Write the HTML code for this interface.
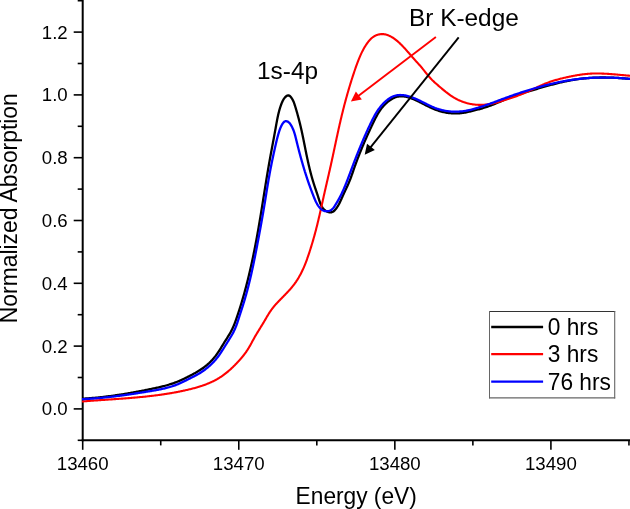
<!DOCTYPE html>
<html><head><meta charset="utf-8">
<style>
html,body{margin:0;padding:0;background:#fff;}
body{width:630px;height:509px;overflow:hidden;}
svg{display:block;will-change:transform;}
text{font-family:'Liberation Sans',sans-serif;fill:#000;}
.t{font-size:18.65px;}
.ti{font-size:24.1px;}
.an{font-size:24.4px;}
.lg{font-size:24.1px;}
</style></head><body>
<svg width="630" height="509" viewBox="0 0 630 509">
<line x1="82.70" y1="-2" x2="82.70" y2="441.20" stroke="#000" stroke-width="2"/>
<line x1="81.70" y1="440.20" x2="632" y2="440.20" stroke="#000" stroke-width="2"/>
<line x1="77.70" y1="440.30" x2="82.70" y2="440.30" stroke="#000" stroke-width="1.6"/>
<line x1="73.70" y1="408.90" x2="82.70" y2="408.90" stroke="#000" stroke-width="1.6"/>
<text x="67.70" y="415.30" text-anchor="end" class="t">0.0</text>
<line x1="77.70" y1="377.50" x2="82.70" y2="377.50" stroke="#000" stroke-width="1.6"/>
<line x1="73.70" y1="346.10" x2="82.70" y2="346.10" stroke="#000" stroke-width="1.6"/>
<text x="67.70" y="352.50" text-anchor="end" class="t">0.2</text>
<line x1="77.70" y1="314.70" x2="82.70" y2="314.70" stroke="#000" stroke-width="1.6"/>
<line x1="73.70" y1="283.30" x2="82.70" y2="283.30" stroke="#000" stroke-width="1.6"/>
<text x="67.70" y="289.70" text-anchor="end" class="t">0.4</text>
<line x1="77.70" y1="251.90" x2="82.70" y2="251.90" stroke="#000" stroke-width="1.6"/>
<line x1="73.70" y1="220.50" x2="82.70" y2="220.50" stroke="#000" stroke-width="1.6"/>
<text x="67.70" y="226.90" text-anchor="end" class="t">0.6</text>
<line x1="77.70" y1="189.10" x2="82.70" y2="189.10" stroke="#000" stroke-width="1.6"/>
<line x1="73.70" y1="157.70" x2="82.70" y2="157.70" stroke="#000" stroke-width="1.6"/>
<text x="67.70" y="164.10" text-anchor="end" class="t">0.8</text>
<line x1="77.70" y1="126.30" x2="82.70" y2="126.30" stroke="#000" stroke-width="1.6"/>
<line x1="73.70" y1="94.90" x2="82.70" y2="94.90" stroke="#000" stroke-width="1.6"/>
<text x="67.70" y="101.30" text-anchor="end" class="t">1.0</text>
<line x1="77.70" y1="63.50" x2="82.70" y2="63.50" stroke="#000" stroke-width="1.6"/>
<line x1="73.70" y1="32.10" x2="82.70" y2="32.10" stroke="#000" stroke-width="1.6"/>
<text x="67.70" y="38.50" text-anchor="end" class="t">1.2</text>
<line x1="77.70" y1="0.70" x2="82.70" y2="0.70" stroke="#000" stroke-width="1.6"/>
<line x1="82.70" y1="440.20" x2="82.70" y2="449.80" stroke="#000" stroke-width="1.6"/>
<text x="82.70" y="469.60" text-anchor="middle" class="t">13460</text>
<line x1="160.74" y1="440.20" x2="160.74" y2="445.40" stroke="#000" stroke-width="1.6"/>
<line x1="238.77" y1="440.20" x2="238.77" y2="449.80" stroke="#000" stroke-width="1.6"/>
<text x="238.77" y="469.60" text-anchor="middle" class="t">13470</text>
<line x1="316.81" y1="440.20" x2="316.81" y2="445.40" stroke="#000" stroke-width="1.6"/>
<line x1="394.84" y1="440.20" x2="394.84" y2="449.80" stroke="#000" stroke-width="1.6"/>
<text x="394.84" y="469.60" text-anchor="middle" class="t">13480</text>
<line x1="472.87" y1="440.20" x2="472.87" y2="445.40" stroke="#000" stroke-width="1.6"/>
<line x1="550.91" y1="440.20" x2="550.91" y2="449.80" stroke="#000" stroke-width="1.6"/>
<text x="550.91" y="469.60" text-anchor="middle" class="t">13490</text>
<line x1="628.95" y1="440.20" x2="628.95" y2="445.40" stroke="#000" stroke-width="1.6"/>
<text transform="translate(295.6,503.9) scale(0.943,1)" class="ti">Energy (eV)</text>
<text transform="translate(16.7,323.2) rotate(-90) scale(0.949,1)" class="ti">Normalized Absorption</text>
<path d="M81.99,398.68 L82.92,398.64 L83.85,398.59 L84.78,398.53 L85.71,398.48 L86.63,398.42 L87.56,398.36 L88.48,398.30 L89.41,398.23 L90.33,398.16 L91.26,398.09 L92.18,398.02 L93.10,397.94 L94.03,397.86 L94.95,397.78 L95.87,397.69 L96.79,397.61 L97.71,397.52 L98.63,397.43 L99.55,397.33 L100.47,397.24 L101.39,397.14 L102.31,397.03 L103.23,396.93 L104.15,396.83 L105.07,396.72 L105.99,396.61 L106.90,396.49 L107.82,396.38 L108.74,396.26 L109.65,396.14 L110.57,396.02 L111.48,395.90 L112.40,395.77 L113.32,395.65 L114.23,395.52 L115.14,395.39 L116.06,395.25 L116.97,395.12 L117.89,394.98 L118.80,394.84 L119.71,394.70 L120.63,394.56 L121.54,394.42 L122.45,394.27 L123.36,394.12 L124.28,393.98 L125.19,393.82 L126.10,393.67 L127.01,393.52 L127.92,393.36 L128.83,393.21 L129.75,393.05 L130.66,392.89 L131.57,392.73 L132.48,392.56 L133.39,392.40 L134.30,392.23 L135.21,392.07 L136.12,391.90 L137.03,391.73 L137.94,391.56 L138.85,391.39 L139.76,391.21 L140.67,391.04 L141.58,390.86 L142.49,390.69 L143.40,390.51 L144.31,390.33 L145.22,390.15 L146.12,389.97 L147.03,389.79 L147.94,389.61 L148.85,389.42 L149.76,389.24 L150.67,389.05 L151.58,388.87 L152.49,388.68 L153.40,388.49 L154.31,388.30 L155.21,388.11 L156.12,387.91 L157.03,387.71 L157.93,387.51 L158.84,387.30 L159.74,387.10 L160.64,386.88 L161.54,386.67 L162.44,386.44 L163.34,386.22 L164.24,385.99 L165.13,385.75 L166.02,385.51 L166.91,385.26 L167.80,385.00 L168.68,384.74 L169.57,384.47 L170.45,384.20 L171.33,383.92 L172.20,383.63 L173.07,383.33 L173.94,383.02 L174.81,382.70 L175.67,382.38 L176.53,382.05 L177.39,381.71 L178.24,381.36 L179.09,381.00 L179.94,380.63 L180.79,380.26 L181.63,379.88 L182.47,379.50 L183.31,379.10 L184.14,378.71 L184.98,378.30 L185.81,377.90 L186.64,377.48 L187.47,377.07 L188.30,376.65 L189.12,376.22 L189.95,375.79 L190.77,375.36 L191.59,374.93 L192.41,374.49 L193.23,374.05 L194.04,373.60 L194.86,373.15 L195.66,372.69 L196.47,372.23 L197.27,371.76 L198.06,371.28 L198.85,370.80 L199.64,370.31 L200.42,369.81 L201.19,369.30 L201.96,368.78 L202.71,368.25 L203.46,367.71 L204.21,367.16 L204.94,366.60 L205.67,366.03 L206.38,365.44 L207.09,364.85 L207.79,364.24 L208.47,363.62 L209.15,363.00 L209.82,362.36 L210.48,361.71 L211.13,361.05 L211.77,360.38 L212.40,359.70 L213.01,359.01 L213.62,358.32 L214.22,357.61 L214.80,356.89 L215.38,356.17 L215.94,355.44 L216.49,354.69 L217.03,353.94 L217.56,353.19 L218.08,352.42 L218.59,351.65 L219.10,350.88 L219.60,350.10 L220.09,349.31 L220.58,348.53 L221.07,347.74 L221.55,346.95 L222.03,346.15 L222.51,345.36 L223.00,344.57 L223.48,343.78 L223.97,342.99 L224.46,342.20 L224.96,341.41 L225.45,340.63 L225.95,339.85 L226.45,339.06 L226.95,338.28 L227.44,337.50 L227.93,336.71 L228.42,335.92 L228.90,335.13 L229.38,334.34 L229.85,333.55 L230.31,332.74 L230.75,331.94 L231.19,331.13 L231.62,330.31 L232.03,329.49 L232.43,328.66 L232.82,327.82 L233.20,326.98 L233.57,326.13 L233.92,325.28 L234.27,324.42 L234.61,323.56 L234.94,322.70 L235.27,321.83 L235.59,320.96 L235.90,320.09 L236.21,319.22 L236.51,318.34 L236.82,317.46 L237.12,316.59 L237.41,315.71 L237.71,314.83 L238.00,313.95 L238.29,313.07 L238.58,312.19 L238.87,311.31 L239.15,310.43 L239.44,309.55 L239.72,308.67 L240.00,307.78 L240.27,306.90 L240.55,306.02 L240.82,305.13 L241.09,304.25 L241.36,303.36 L241.63,302.48 L241.89,301.59 L242.16,300.70 L242.42,299.82 L242.68,298.93 L242.93,298.04 L243.19,297.15 L243.44,296.26 L243.70,295.37 L243.95,294.48 L244.20,293.59 L244.44,292.70 L244.69,291.81 L244.93,290.91 L245.17,290.02 L245.41,289.13 L245.65,288.23 L245.89,287.34 L246.12,286.44 L246.36,285.55 L246.59,284.65 L246.82,283.76 L247.05,282.86 L247.28,281.97 L247.50,281.07 L247.73,280.17 L247.95,279.27 L248.17,278.37 L248.39,277.48 L248.61,276.58 L248.83,275.68 L249.04,274.78 L249.25,273.88 L249.47,272.98 L249.68,272.08 L249.89,271.17 L250.10,270.27 L250.30,269.37 L250.51,268.47 L250.71,267.57 L250.92,266.66 L251.12,265.76 L251.32,264.86 L251.52,263.95 L251.72,263.05 L251.91,262.14 L252.11,261.24 L252.30,260.33 L252.50,259.43 L252.69,258.52 L252.88,257.62 L253.07,256.71 L253.26,255.80 L253.44,254.90 L253.63,253.99 L253.81,253.08 L254.00,252.18 L254.18,251.27 L254.36,250.36 L254.54,249.45 L254.72,248.54 L254.90,247.63 L255.08,246.73 L255.25,245.82 L255.43,244.91 L255.60,244.00 L255.78,243.09 L255.95,242.18 L256.12,241.27 L256.29,240.36 L256.46,239.45 L256.63,238.54 L256.80,237.63 L256.96,236.72 L257.13,235.81 L257.29,234.89 L257.46,233.98 L257.62,233.07 L257.78,232.16 L257.95,231.25 L258.11,230.34 L258.27,229.43 L258.43,228.51 L258.59,227.60 L258.74,226.69 L258.90,225.78 L259.06,224.87 L259.21,223.95 L259.37,223.04 L259.52,222.13 L259.68,221.22 L259.83,220.30 L259.98,219.39 L260.13,218.48 L260.28,217.57 L260.44,216.65 L260.59,215.74 L260.74,214.83 L260.89,213.91 L261.04,213.00 L261.18,212.09 L261.33,211.17 L261.48,210.26 L261.63,209.35 L261.78,208.43 L261.92,207.52 L262.07,206.61 L262.22,205.69 L262.36,204.78 L262.51,203.87 L262.66,202.95 L262.80,202.04 L262.95,201.13 L263.09,200.21 L263.24,199.30 L263.38,198.39 L263.53,197.47 L263.67,196.56 L263.82,195.64 L263.97,194.73 L264.11,193.82 L264.26,192.90 L264.40,191.99 L264.55,191.08 L264.69,190.16 L264.84,189.25 L264.99,188.34 L265.13,187.42 L265.28,186.51 L265.43,185.59 L265.57,184.68 L265.72,183.77 L265.87,182.85 L266.02,181.94 L266.17,181.03 L266.31,180.11 L266.46,179.20 L266.61,178.29 L266.76,177.37 L266.91,176.46 L267.06,175.55 L267.22,174.64 L267.37,173.72 L267.52,172.81 L267.67,171.90 L267.83,170.98 L267.98,170.07 L268.14,169.16 L268.29,168.25 L268.45,167.33 L268.61,166.42 L268.76,165.51 L268.92,164.60 L269.08,163.68 L269.24,162.77 L269.40,161.86 L269.57,160.95 L269.73,160.04 L269.89,159.12 L270.06,158.21 L270.22,157.30 L270.39,156.39 L270.55,155.48 L270.72,154.57 L270.89,153.66 L271.06,152.75 L271.23,151.83 L271.40,150.92 L271.57,150.01 L271.74,149.10 L271.91,148.19 L272.08,147.28 L272.25,146.37 L272.42,145.46 L272.59,144.55 L272.76,143.64 L272.93,142.73 L273.10,141.82 L273.27,140.91 L273.44,140.00 L273.61,139.09 L273.78,138.18 L273.95,137.27 L274.12,136.36 L274.29,135.45 L274.46,134.54 L274.62,133.63 L274.79,132.72 L274.96,131.82 L275.12,130.91 L275.29,130.00 L275.45,129.09 L275.62,128.18 L275.78,127.27 L275.94,126.36 L276.11,125.45 L276.27,124.55 L276.43,123.64 L276.60,122.73 L276.76,121.83 L276.93,120.92 L277.11,120.02 L277.28,119.11 L277.46,118.21 L277.65,117.31 L277.84,116.41 L278.04,115.51 L278.24,114.61 L278.45,113.72 L278.67,112.82 L278.89,111.93 L279.13,111.04 L279.37,110.15 L279.62,109.27 L279.89,108.39 L280.16,107.51 L280.45,106.63 L280.74,105.75 L281.05,104.88 L281.38,104.01 L281.71,103.14 L282.07,102.28 L282.45,101.42 L282.87,100.58 L283.33,99.75 L283.84,98.93 L284.41,98.13 L285.05,97.35 L285.77,96.62 L286.53,95.99 L287.32,95.55 L288.11,95.35 L288.89,95.47 L289.64,95.87 L290.36,96.49 L291.02,97.26 L291.64,98.11 L292.19,98.97 L292.68,99.83 L293.12,100.70 L293.51,101.56 L293.87,102.42 L294.19,103.29 L294.49,104.16 L294.77,105.03 L295.04,105.90 L295.31,106.77 L295.58,107.64 L295.84,108.52 L296.10,109.40 L296.36,110.28 L296.61,111.16 L296.87,112.04 L297.12,112.93 L297.37,113.81 L297.62,114.70 L297.86,115.59 L298.10,116.48 L298.34,117.37 L298.58,118.27 L298.82,119.16 L299.05,120.05 L299.28,120.95 L299.51,121.85 L299.73,122.74 L299.95,123.64 L300.17,124.54 L300.39,125.44 L300.60,126.34 L300.82,127.24 L301.02,128.15 L301.23,129.05 L301.43,129.95 L301.63,130.85 L301.83,131.75 L302.03,132.66 L302.22,133.56 L302.41,134.47 L302.60,135.37 L302.79,136.27 L302.98,137.18 L303.16,138.08 L303.35,138.99 L303.53,139.89 L303.71,140.80 L303.90,141.71 L304.08,142.61 L304.26,143.52 L304.44,144.43 L304.62,145.33 L304.80,146.24 L304.98,147.15 L305.16,148.06 L305.34,148.96 L305.52,149.87 L305.70,150.78 L305.89,151.69 L306.07,152.59 L306.25,153.50 L306.44,154.41 L306.63,155.32 L306.82,156.23 L307.01,157.13 L307.20,158.04 L307.39,158.95 L307.59,159.86 L307.79,160.77 L307.99,161.67 L308.19,162.58 L308.40,163.48 L308.60,164.39 L308.81,165.29 L309.02,166.20 L309.24,167.10 L309.45,168.00 L309.67,168.91 L309.89,169.81 L310.12,170.70 L310.35,171.60 L310.58,172.50 L310.81,173.39 L311.05,174.29 L311.29,175.18 L311.53,176.07 L311.78,176.96 L312.03,177.85 L312.28,178.73 L312.54,179.62 L312.80,180.50 L313.06,181.38 L313.33,182.26 L313.60,183.13 L313.88,184.01 L314.16,184.88 L314.44,185.75 L314.73,186.62 L315.02,187.49 L315.31,188.35 L315.60,189.22 L315.89,190.10 L316.19,190.97 L316.48,191.84 L316.78,192.72 L317.08,193.60 L317.37,194.48 L317.67,195.37 L317.96,196.26 L318.25,197.16 L318.54,198.06 L318.83,198.97 L319.12,199.88 L319.41,200.79 L319.72,201.70 L320.04,202.60 L320.37,203.48 L320.73,204.35 L321.12,205.20 L321.53,206.02 L321.99,206.82 L322.48,207.58 L323.01,208.31 L323.60,209.00 L324.23,209.65 L324.92,210.25 L325.67,210.79 L326.48,211.28 L327.32,211.69 L328.18,212.02 L329.06,212.25 L329.95,212.37 L330.82,212.37 L331.68,212.24 L332.50,211.96 L333.28,211.53 L334.01,210.97 L334.71,210.31 L335.36,209.57 L335.98,208.79 L336.56,207.99 L337.11,207.19 L337.64,206.38 L338.13,205.57 L338.60,204.76 L339.05,203.94 L339.48,203.11 L339.89,202.29 L340.29,201.46 L340.68,200.63 L341.06,199.80 L341.43,198.97 L341.80,198.13 L342.16,197.30 L342.53,196.46 L342.90,195.62 L343.27,194.79 L343.66,193.95 L344.04,193.12 L344.43,192.28 L344.83,191.45 L345.23,190.61 L345.62,189.77 L346.02,188.93 L346.42,188.09 L346.81,187.25 L347.20,186.41 L347.59,185.56 L347.97,184.72 L348.35,183.87 L348.72,183.01 L349.08,182.16 L349.43,181.30 L349.78,180.44 L350.11,179.58 L350.45,178.71 L350.77,177.84 L351.09,176.98 L351.41,176.10 L351.72,175.23 L352.02,174.36 L352.33,173.49 L352.63,172.61 L352.94,171.74 L353.24,170.86 L353.54,169.99 L353.84,169.11 L354.14,168.24 L354.45,167.37 L354.76,166.49 L355.07,165.62 L355.38,164.75 L355.69,163.88 L356.01,163.01 L356.33,162.15 L356.65,161.28 L356.98,160.42 L357.30,159.55 L357.63,158.69 L357.96,157.82 L358.30,156.96 L358.63,156.10 L358.97,155.24 L359.31,154.38 L359.65,153.52 L359.99,152.66 L360.34,151.80 L360.68,150.95 L361.03,150.09 L361.39,149.24 L361.74,148.38 L362.09,147.53 L362.45,146.67 L362.81,145.82 L363.17,144.97 L363.53,144.12 L363.90,143.27 L364.26,142.42 L364.63,141.57 L365.00,140.72 L365.37,139.87 L365.74,139.02 L366.12,138.18 L366.49,137.33 L366.87,136.48 L367.25,135.64 L367.63,134.79 L368.01,133.95 L368.39,133.11 L368.78,132.26 L369.16,131.42 L369.55,130.58 L369.94,129.73 L370.33,128.89 L370.72,128.05 L371.11,127.21 L371.50,126.37 L371.90,125.53 L372.30,124.69 L372.69,123.85 L373.09,123.01 L373.49,122.18 L373.90,121.34 L374.31,120.51 L374.72,119.68 L375.14,118.85 L375.56,118.03 L375.99,117.21 L376.43,116.39 L376.87,115.59 L377.32,114.78 L377.78,113.99 L378.25,113.20 L378.74,112.42 L379.23,111.64 L379.73,110.88 L380.25,110.12 L380.78,109.37 L381.32,108.64 L381.88,107.91 L382.45,107.20 L383.04,106.49 L383.65,105.80 L384.27,105.12 L384.91,104.46 L385.56,103.80 L386.24,103.16 L386.94,102.54 L387.65,101.93 L388.39,101.34 L389.15,100.76 L389.93,100.21 L390.72,99.68 L391.53,99.18 L392.35,98.71 L393.18,98.27 L394.03,97.87 L394.88,97.51 L395.75,97.19 L396.61,96.92 L397.49,96.69 L398.37,96.51 L399.26,96.38 L400.15,96.29 L401.05,96.25 L401.95,96.25 L402.87,96.30 L403.79,96.39 L404.71,96.52 L405.64,96.68 L406.56,96.88 L407.48,97.10 L408.40,97.36 L409.30,97.63 L410.19,97.92 L411.07,98.23 L411.94,98.56 L412.80,98.90 L413.65,99.26 L414.49,99.62 L415.32,100.00 L416.15,100.38 L416.98,100.78 L417.81,101.17 L418.63,101.58 L419.46,101.99 L420.28,102.40 L421.10,102.82 L421.92,103.24 L422.75,103.66 L423.57,104.09 L424.39,104.51 L425.21,104.93 L426.04,105.35 L426.86,105.76 L427.69,106.18 L428.52,106.58 L429.36,106.99 L430.19,107.38 L431.03,107.77 L431.87,108.15 L432.72,108.53 L433.57,108.89 L434.42,109.24 L435.28,109.59 L436.14,109.91 L437.01,110.23 L437.89,110.53 L438.77,110.82 L439.65,111.10 L440.54,111.35 L441.44,111.60 L442.34,111.83 L443.24,112.04 L444.15,112.24 L445.06,112.43 L445.98,112.59 L446.89,112.75 L447.81,112.89 L448.73,113.01 L449.66,113.12 L450.58,113.21 L451.51,113.28 L452.44,113.34 L453.36,113.39 L454.29,113.42 L455.22,113.43 L456.15,113.43 L457.07,113.41 L458.00,113.37 L458.92,113.32 L459.84,113.25 L460.76,113.16 L461.68,113.06 L462.59,112.94 L463.51,112.81 L464.42,112.66 L465.32,112.50 L466.23,112.32 L467.13,112.14 L468.03,111.94 L468.93,111.74 L469.83,111.53 L470.73,111.32 L471.63,111.10 L472.53,110.87 L473.43,110.65 L474.33,110.42 L475.23,110.20 L476.12,109.97 L477.02,109.74 L477.92,109.51 L478.81,109.27 L479.71,109.03 L480.60,108.79 L481.50,108.54 L482.39,108.28 L483.27,108.02 L484.16,107.75 L485.04,107.47 L485.92,107.19 L486.80,106.90 L487.67,106.60 L488.55,106.29 L489.42,105.97 L490.28,105.65 L491.15,105.32 L492.01,104.99 L492.87,104.65 L493.73,104.31 L494.59,103.96 L495.45,103.61 L496.30,103.25 L497.16,102.90 L498.01,102.54 L498.86,102.18 L499.72,101.82 L500.57,101.45 L501.42,101.09 L502.28,100.73 L503.13,100.37 L503.98,100.01 L504.84,99.65 L505.69,99.29 L506.55,98.94 L507.41,98.59 L508.26,98.24 L509.12,97.90 L509.99,97.57 L510.85,97.23 L511.72,96.91 L512.58,96.58 L513.45,96.27 L514.32,95.96 L515.19,95.65 L516.07,95.34 L516.94,95.04 L517.82,94.75 L518.70,94.45 L519.57,94.16 L520.45,93.88 L521.33,93.59 L522.22,93.31 L523.10,93.03 L523.98,92.76 L524.87,92.48 L525.75,92.21 L526.63,91.94 L527.52,91.67 L528.41,91.41 L529.29,91.14 L530.18,90.88 L531.07,90.61 L531.95,90.35 L532.84,90.09 L533.73,89.83 L534.62,89.57 L535.50,89.30 L536.39,89.04 L537.28,88.78 L538.17,88.52 L539.06,88.26 L539.94,88.00 L540.83,87.75 L541.72,87.49 L542.61,87.23 L543.50,86.98 L544.39,86.73 L545.28,86.47 L546.17,86.22 L547.06,85.97 L547.95,85.73 L548.84,85.48 L549.73,85.24 L550.63,85.00 L551.52,84.76 L552.41,84.52 L553.31,84.29 L554.21,84.05 L555.10,83.82 L556.00,83.60 L556.90,83.37 L557.80,83.15 L558.69,82.93 L559.60,82.72 L560.50,82.50 L561.40,82.29 L562.30,82.09 L563.21,81.89 L564.11,81.69 L565.02,81.49 L565.92,81.30 L566.83,81.11 L567.74,80.93 L568.64,80.75 L569.55,80.57 L570.46,80.40 L571.37,80.24 L572.29,80.07 L573.20,79.91 L574.11,79.76 L575.02,79.61 L575.94,79.47 L576.85,79.33 L577.77,79.19 L578.68,79.07 L579.60,78.94 L580.52,78.82 L581.43,78.71 L582.35,78.60 L583.27,78.50 L584.19,78.40 L585.11,78.31 L586.03,78.23 L586.95,78.15 L587.87,78.07 L588.80,78.00 L589.72,77.93 L590.64,77.87 L591.56,77.82 L592.49,77.77 L593.41,77.72 L594.34,77.68 L595.26,77.64 L596.18,77.61 L597.11,77.58 L598.03,77.56 L598.96,77.54 L599.88,77.52 L600.81,77.51 L601.74,77.51 L602.66,77.50 L603.59,77.50 L604.51,77.51 L605.44,77.52 L606.37,77.53 L607.29,77.55 L608.22,77.57 L609.14,77.59 L610.07,77.62 L611.00,77.65 L611.92,77.68 L612.85,77.72 L613.77,77.76 L614.70,77.81 L615.62,77.85 L616.55,77.90 L617.47,77.95 L618.40,78.01 L619.32,78.07 L620.24,78.13 L621.17,78.19 L622.09,78.26 L623.01,78.33 L623.94,78.40 L624.86,78.47 L625.78,78.55 L626.70,78.63 L627.62,78.71 L628.54,78.79 L629.46,78.88 L630.38,78.96 L630.99,79.02" fill="none" stroke="#000" stroke-width="2.3" stroke-linejoin="round"/>
<path d="M82.00,401.51 L82.81,401.44 L83.62,401.37 L84.43,401.31 L85.24,401.24 L86.05,401.18 L86.87,401.11 L87.68,401.05 L88.49,400.99 L89.30,400.93 L90.11,400.87 L90.92,400.81 L91.73,400.75 L92.55,400.69 L93.36,400.63 L94.17,400.57 L94.98,400.51 L95.79,400.45 L96.61,400.39 L97.42,400.34 L98.23,400.28 L99.04,400.22 L99.86,400.17 L100.67,400.11 L101.48,400.05 L102.29,400.00 L103.11,399.94 L103.92,399.89 L104.73,399.83 L105.54,399.78 L106.36,399.72 L107.17,399.66 L107.98,399.61 L108.79,399.55 L109.61,399.50 L110.42,399.44 L111.23,399.39 L112.04,399.33 L112.86,399.27 L113.67,399.22 L114.48,399.16 L115.29,399.10 L116.11,399.05 L116.92,398.99 L117.73,398.93 L118.54,398.87 L119.36,398.82 L120.17,398.76 L120.98,398.70 L121.79,398.64 L122.61,398.58 L123.42,398.52 L124.23,398.46 L125.04,398.39 L125.85,398.33 L126.67,398.27 L127.48,398.21 L128.29,398.14 L129.10,398.08 L129.91,398.01 L130.72,397.94 L131.54,397.88 L132.35,397.81 L133.16,397.74 L133.97,397.67 L134.78,397.60 L135.59,397.53 L136.40,397.46 L137.21,397.38 L138.02,397.31 L138.83,397.23 L139.64,397.16 L140.45,397.08 L141.26,397.00 L142.07,396.92 L142.88,396.84 L143.69,396.76 L144.50,396.68 L145.31,396.59 L146.12,396.51 L146.93,396.42 L147.74,396.33 L148.55,396.24 L149.35,396.15 L150.16,396.06 L150.97,395.97 L151.78,395.87 L152.59,395.78 L153.39,395.68 L154.20,395.58 L155.01,395.48 L155.81,395.38 L156.62,395.27 L157.43,395.17 L158.23,395.06 L159.04,394.95 L159.85,394.84 L160.65,394.73 L161.46,394.62 L162.26,394.50 L163.07,394.38 L163.87,394.26 L164.68,394.14 L165.48,394.02 L166.28,393.90 L167.09,393.77 L167.89,393.64 L168.69,393.51 L169.50,393.38 L170.30,393.24 L171.10,393.11 L171.90,392.97 L172.70,392.83 L173.51,392.69 L174.31,392.54 L175.11,392.40 L175.91,392.25 L176.71,392.10 L177.51,391.94 L178.31,391.79 L179.11,391.63 L179.91,391.47 L180.71,391.30 L181.50,391.14 L182.30,390.97 L183.10,390.80 L183.90,390.63 L184.70,390.46 L185.49,390.28 L186.29,390.10 L187.08,389.92 L187.88,389.73 L188.68,389.54 L189.47,389.35 L190.26,389.16 L191.06,388.96 L191.85,388.76 L192.64,388.56 L193.43,388.35 L194.22,388.14 L195.01,387.92 L195.79,387.70 L196.58,387.48 L197.36,387.25 L198.14,387.02 L198.92,386.78 L199.70,386.54 L200.48,386.29 L201.25,386.04 L202.02,385.79 L202.79,385.52 L203.56,385.25 L204.32,384.98 L205.08,384.70 L205.84,384.41 L206.60,384.12 L207.35,383.82 L208.10,383.52 L208.85,383.21 L209.60,382.89 L210.34,382.56 L211.07,382.23 L211.81,381.89 L212.54,381.55 L213.26,381.19 L213.99,380.83 L214.71,380.46 L215.42,380.08 L216.13,379.70 L216.84,379.30 L217.54,378.90 L218.24,378.49 L218.93,378.07 L219.62,377.64 L220.31,377.20 L220.98,376.76 L221.66,376.30 L222.33,375.84 L223.00,375.37 L223.66,374.89 L224.31,374.40 L224.96,373.91 L225.61,373.41 L226.25,372.90 L226.89,372.39 L227.52,371.87 L228.15,371.34 L228.78,370.80 L229.40,370.26 L230.01,369.72 L230.62,369.17 L231.23,368.61 L231.83,368.05 L232.43,367.49 L233.02,366.92 L233.61,366.35 L234.19,365.77 L234.78,365.19 L235.35,364.60 L235.92,364.01 L236.49,363.42 L237.05,362.83 L237.61,362.23 L238.17,361.63 L238.72,361.03 L239.26,360.43 L239.80,359.83 L240.34,359.22 L240.87,358.61 L241.40,357.99 L241.92,357.38 L242.44,356.76 L242.95,356.13 L243.45,355.50 L243.95,354.87 L244.44,354.23 L244.92,353.59 L245.40,352.94 L245.87,352.28 L246.33,351.62 L246.79,350.96 L247.24,350.28 L247.68,349.60 L248.11,348.92 L248.53,348.23 L248.95,347.53 L249.36,346.82 L249.77,346.12 L250.17,345.41 L250.57,344.69 L250.96,343.97 L251.36,343.26 L251.75,342.53 L252.14,341.81 L252.53,341.09 L252.92,340.37 L253.31,339.65 L253.70,338.93 L254.10,338.22 L254.50,337.50 L254.90,336.79 L255.31,336.08 L255.72,335.38 L256.13,334.68 L256.55,333.98 L256.97,333.28 L257.39,332.59 L257.81,331.89 L258.23,331.20 L258.66,330.51 L259.09,329.82 L259.51,329.13 L259.94,328.44 L260.37,327.75 L260.80,327.06 L261.22,326.37 L261.65,325.68 L262.07,324.98 L262.50,324.29 L262.92,323.60 L263.34,322.90 L263.75,322.21 L264.17,321.51 L264.58,320.80 L264.99,320.10 L265.40,319.40 L265.81,318.69 L266.22,317.99 L266.63,317.29 L267.04,316.59 L267.46,315.89 L267.88,315.19 L268.30,314.49 L268.73,313.80 L269.16,313.11 L269.60,312.43 L270.05,311.75 L270.50,311.08 L270.96,310.41 L271.43,309.75 L271.91,309.09 L272.40,308.44 L272.90,307.80 L273.41,307.17 L273.93,306.54 L274.45,305.91 L274.98,305.30 L275.52,304.68 L276.06,304.07 L276.61,303.47 L277.16,302.87 L277.72,302.27 L278.28,301.68 L278.85,301.09 L279.42,300.50 L279.98,299.91 L280.55,299.33 L281.13,298.74 L281.70,298.16 L282.27,297.58 L282.84,297.00 L283.41,296.42 L283.98,295.84 L284.55,295.26 L285.11,294.68 L285.67,294.10 L286.24,293.51 L286.80,292.92 L287.35,292.34 L287.91,291.74 L288.46,291.15 L289.00,290.55 L289.55,289.94 L290.09,289.33 L290.62,288.72 L291.15,288.10 L291.68,287.48 L292.20,286.85 L292.72,286.21 L293.22,285.57 L293.73,284.92 L294.22,284.27 L294.71,283.61 L295.19,282.95 L295.66,282.28 L296.13,281.61 L296.58,280.93 L297.03,280.25 L297.47,279.57 L297.90,278.88 L298.32,278.18 L298.73,277.48 L299.14,276.78 L299.54,276.07 L299.93,275.36 L300.32,274.65 L300.70,273.93 L301.07,273.21 L301.44,272.49 L301.80,271.76 L302.15,271.03 L302.50,270.30 L302.84,269.56 L303.18,268.82 L303.51,268.08 L303.83,267.34 L304.15,266.59 L304.47,265.84 L304.78,265.09 L305.08,264.33 L305.38,263.58 L305.68,262.82 L305.97,262.06 L306.26,261.30 L306.54,260.53 L306.82,259.77 L307.10,259.00 L307.37,258.23 L307.65,257.47 L307.91,256.69 L308.18,255.92 L308.44,255.15 L308.70,254.38 L308.96,253.60 L309.21,252.83 L309.47,252.05 L309.72,251.28 L309.97,250.50 L310.21,249.72 L310.46,248.95 L310.70,248.17 L310.95,247.39 L311.19,246.61 L311.43,245.83 L311.67,245.05 L311.90,244.28 L312.14,243.50 L312.37,242.72 L312.60,241.94 L312.83,241.15 L313.06,240.37 L313.28,239.59 L313.51,238.81 L313.73,238.03 L313.95,237.24 L314.17,236.46 L314.39,235.68 L314.60,234.89 L314.82,234.11 L315.03,233.32 L315.24,232.54 L315.45,231.75 L315.66,230.97 L315.87,230.18 L316.07,229.39 L316.27,228.60 L316.47,227.82 L316.67,227.03 L316.87,226.24 L317.07,225.45 L317.26,224.66 L317.46,223.87 L317.65,223.08 L317.84,222.29 L318.03,221.50 L318.22,220.71 L318.41,219.91 L318.60,219.12 L318.78,218.33 L318.97,217.54 L319.15,216.75 L319.34,215.95 L319.52,215.16 L319.70,214.37 L319.88,213.57 L320.06,212.78 L320.24,211.99 L320.42,211.19 L320.60,210.40 L320.78,209.60 L320.95,208.81 L321.13,208.01 L321.31,207.22 L321.48,206.42 L321.66,205.63 L321.84,204.83 L322.01,204.04 L322.19,203.24 L322.36,202.45 L322.54,201.65 L322.71,200.86 L322.89,200.06 L323.06,199.27 L323.24,198.48 L323.42,197.68 L323.59,196.89 L323.77,196.09 L323.95,195.30 L324.12,194.50 L324.30,193.71 L324.48,192.91 L324.66,192.12 L324.84,191.33 L325.02,190.53 L325.20,189.74 L325.38,188.95 L325.56,188.15 L325.74,187.36 L325.93,186.57 L326.11,185.77 L326.29,184.98 L326.47,184.19 L326.66,183.39 L326.84,182.60 L327.02,181.81 L327.21,181.02 L327.39,180.22 L327.57,179.43 L327.76,178.64 L327.94,177.84 L328.12,177.05 L328.30,176.26 L328.49,175.47 L328.67,174.67 L328.85,173.88 L329.03,173.09 L329.21,172.29 L329.39,171.50 L329.57,170.71 L329.75,169.91 L329.93,169.12 L330.11,168.33 L330.29,167.53 L330.47,166.74 L330.64,165.94 L330.82,165.15 L330.99,164.35 L331.17,163.56 L331.34,162.76 L331.52,161.97 L331.69,161.17 L331.87,160.38 L332.04,159.58 L332.21,158.79 L332.38,157.99 L332.55,157.20 L332.73,156.40 L332.90,155.61 L333.07,154.81 L333.24,154.01 L333.41,153.22 L333.58,152.42 L333.75,151.63 L333.92,150.83 L334.09,150.03 L334.26,149.24 L334.43,148.44 L334.60,147.64 L334.77,146.85 L334.94,146.05 L335.11,145.26 L335.28,144.46 L335.45,143.66 L335.62,142.87 L335.79,142.07 L335.96,141.28 L336.13,140.48 L336.30,139.68 L336.47,138.89 L336.64,138.09 L336.81,137.30 L336.99,136.50 L337.16,135.71 L337.33,134.91 L337.50,134.11 L337.68,133.32 L337.85,132.52 L338.03,131.73 L338.20,130.93 L338.38,130.14 L338.55,129.34 L338.73,128.55 L338.91,127.75 L339.08,126.96 L339.26,126.17 L339.44,125.37 L339.62,124.58 L339.80,123.79 L339.99,122.99 L340.17,122.20 L340.35,121.41 L340.54,120.61 L340.72,119.82 L340.91,119.03 L341.09,118.24 L341.28,117.44 L341.47,116.65 L341.66,115.86 L341.85,115.07 L342.04,114.28 L342.23,113.49 L342.43,112.70 L342.62,111.91 L342.82,111.12 L343.02,110.33 L343.21,109.54 L343.41,108.75 L343.61,107.96 L343.82,107.17 L344.02,106.38 L344.22,105.59 L344.43,104.81 L344.64,104.02 L344.84,103.23 L345.05,102.44 L345.26,101.66 L345.47,100.87 L345.69,100.09 L345.90,99.30 L346.12,98.52 L346.33,97.73 L346.55,96.95 L346.77,96.16 L346.99,95.38 L347.21,94.60 L347.43,93.81 L347.66,93.03 L347.88,92.25 L348.11,91.47 L348.33,90.68 L348.56,89.90 L348.79,89.12 L349.02,88.34 L349.26,87.56 L349.49,86.78 L349.72,86.00 L349.96,85.22 L350.20,84.45 L350.44,83.67 L350.68,82.89 L350.92,82.11 L351.16,81.34 L351.40,80.56 L351.65,79.78 L351.90,79.01 L352.14,78.23 L352.39,77.46 L352.64,76.69 L352.90,75.91 L353.15,75.14 L353.40,74.37 L353.66,73.59 L353.92,72.82 L354.17,72.05 L354.43,71.28 L354.70,70.51 L354.96,69.74 L355.22,68.97 L355.49,68.20 L355.75,67.43 L356.02,66.67 L356.29,65.90 L356.57,65.13 L356.84,64.37 L357.12,63.60 L357.40,62.84 L357.68,62.08 L357.97,61.32 L358.27,60.56 L358.56,59.80 L358.86,59.05 L359.17,58.30 L359.48,57.55 L359.80,56.80 L360.12,56.05 L360.45,55.31 L360.78,54.57 L361.12,53.83 L361.47,53.09 L361.82,52.36 L362.19,51.63 L362.56,50.91 L362.93,50.18 L363.32,49.47 L363.71,48.75 L364.12,48.04 L364.53,47.33 L364.95,46.63 L365.38,45.93 L365.82,45.23 L366.27,44.54 L366.74,43.86 L367.21,43.18 L367.70,42.51 L368.19,41.86 L368.71,41.21 L369.24,40.59 L369.78,39.98 L370.34,39.39 L370.91,38.82 L371.50,38.28 L372.11,37.76 L372.74,37.27 L373.39,36.80 L374.06,36.37 L374.75,35.97 L375.46,35.60 L376.20,35.28 L376.95,34.98 L377.73,34.73 L378.52,34.52 L379.32,34.35 L380.13,34.22 L380.95,34.13 L381.76,34.09 L382.58,34.10 L383.39,34.15 L384.20,34.24 L385.00,34.38 L385.79,34.56 L386.58,34.77 L387.36,35.02 L388.12,35.30 L388.88,35.61 L389.62,35.95 L390.36,36.31 L391.08,36.69 L391.79,37.08 L392.49,37.50 L393.17,37.94 L393.85,38.39 L394.52,38.86 L395.17,39.34 L395.82,39.84 L396.46,40.35 L397.09,40.87 L397.71,41.40 L398.33,41.94 L398.94,42.50 L399.54,43.05 L400.13,43.62 L400.71,44.19 L401.29,44.77 L401.87,45.35 L402.44,45.94 L403.00,46.52 L403.56,47.12 L404.12,47.71 L404.67,48.31 L405.21,48.91 L405.76,49.51 L406.30,50.12 L406.84,50.72 L407.37,51.33 L407.91,51.94 L408.44,52.55 L408.97,53.17 L409.50,53.78 L410.03,54.39 L410.56,55.01 L411.09,55.62 L411.62,56.23 L412.15,56.84 L412.68,57.46 L413.22,58.07 L413.75,58.67 L414.29,59.28 L414.83,59.89 L415.37,60.49 L415.92,61.09 L416.47,61.69 L417.02,62.29 L417.57,62.89 L418.12,63.49 L418.67,64.09 L419.21,64.70 L419.75,65.31 L420.29,65.92 L420.82,66.53 L421.34,67.16 L421.86,67.78 L422.37,68.41 L422.88,69.05 L423.39,69.69 L423.89,70.32 L424.39,70.96 L424.90,71.60 L425.40,72.24 L425.91,72.87 L426.42,73.50 L426.94,74.13 L427.45,74.76 L427.98,75.38 L428.50,76.00 L429.03,76.61 L429.57,77.22 L430.11,77.82 L430.66,78.42 L431.21,79.01 L431.77,79.60 L432.34,80.18 L432.92,80.74 L433.51,81.31 L434.10,81.86 L434.70,82.41 L435.31,82.95 L435.92,83.49 L436.53,84.03 L437.14,84.57 L437.76,85.10 L438.37,85.64 L438.99,86.18 L439.61,86.71 L440.23,87.25 L440.84,87.78 L441.46,88.31 L442.09,88.84 L442.71,89.37 L443.34,89.89 L443.96,90.41 L444.59,90.93 L445.23,91.44 L445.86,91.95 L446.50,92.45 L447.15,92.95 L447.80,93.44 L448.45,93.93 L449.11,94.41 L449.77,94.88 L450.43,95.34 L451.11,95.80 L451.78,96.25 L452.47,96.69 L453.16,97.12 L453.85,97.53 L454.55,97.94 L455.26,98.34 L455.98,98.73 L456.70,99.11 L457.42,99.48 L458.15,99.84 L458.89,100.18 L459.63,100.52 L460.38,100.84 L461.13,101.15 L461.89,101.45 L462.65,101.74 L463.42,102.02 L464.19,102.28 L464.96,102.53 L465.74,102.77 L466.52,103.00 L467.31,103.21 L468.10,103.41 L468.89,103.60 L469.69,103.77 L470.49,103.94 L471.29,104.08 L472.09,104.22 L472.90,104.34 L473.71,104.45 L474.52,104.55 L475.33,104.64 L476.14,104.71 L476.95,104.77 L477.77,104.81 L478.58,104.85 L479.40,104.87 L480.21,104.88 L481.03,104.88 L481.84,104.86 L482.65,104.83 L483.47,104.79 L484.28,104.74 L485.09,104.67 L485.90,104.60 L486.70,104.51 L487.51,104.40 L488.31,104.29 L489.11,104.17 L489.92,104.03 L490.71,103.89 L491.51,103.73 L492.31,103.57 L493.10,103.40 L493.90,103.22 L494.69,103.03 L495.48,102.84 L496.27,102.64 L497.06,102.43 L497.84,102.22 L498.63,102.00 L499.41,101.77 L500.20,101.55 L500.98,101.32 L501.76,101.08 L502.54,100.84 L503.32,100.60 L504.10,100.36 L504.88,100.11 L505.65,99.87 L506.43,99.62 L507.21,99.37 L507.98,99.12 L508.75,98.86 L509.53,98.61 L510.30,98.35 L511.07,98.08 L511.84,97.82 L512.61,97.55 L513.37,97.28 L514.14,97.01 L514.91,96.74 L515.67,96.46 L516.43,96.18 L517.19,95.90 L517.96,95.61 L518.71,95.32 L519.47,95.03 L520.23,94.74 L520.99,94.44 L521.74,94.14 L522.49,93.83 L523.25,93.53 L524.00,93.21 L524.75,92.90 L525.49,92.58 L526.24,92.26 L526.99,91.93 L527.73,91.61 L528.47,91.27 L529.21,90.94 L529.95,90.60 L530.69,90.26 L531.43,89.91 L532.17,89.57 L532.91,89.22 L533.64,88.87 L534.38,88.52 L535.12,88.18 L535.86,87.83 L536.59,87.48 L537.33,87.14 L538.07,86.79 L538.81,86.45 L539.55,86.11 L540.29,85.77 L541.03,85.44 L541.78,85.11 L542.52,84.78 L543.27,84.46 L544.02,84.15 L544.77,83.84 L545.52,83.53 L546.28,83.23 L547.04,82.94 L547.80,82.65 L548.56,82.37 L549.32,82.10 L550.09,81.83 L550.86,81.56 L551.63,81.31 L552.40,81.05 L553.18,80.81 L553.95,80.57 L554.73,80.33 L555.51,80.10 L556.29,79.87 L557.08,79.65 L557.86,79.43 L558.65,79.22 L559.43,79.01 L560.22,78.80 L561.01,78.60 L561.80,78.40 L562.59,78.21 L563.39,78.02 L564.18,77.83 L564.97,77.65 L565.77,77.46 L566.57,77.29 L567.36,77.11 L568.16,76.94 L568.96,76.77 L569.76,76.60 L570.55,76.44 L571.35,76.28 L572.15,76.12 L572.95,75.96 L573.75,75.81 L574.55,75.66 L575.35,75.51 L576.15,75.37 L576.96,75.23 L577.76,75.09 L578.56,74.96 L579.36,74.84 L580.17,74.72 L580.97,74.60 L581.78,74.49 L582.58,74.38 L583.39,74.28 L584.19,74.18 L585.00,74.09 L585.80,74.01 L586.61,73.93 L587.42,73.86 L588.23,73.80 L589.04,73.74 L589.85,73.69 L590.66,73.65 L591.47,73.61 L592.28,73.57 L593.09,73.55 L593.90,73.53 L594.72,73.51 L595.53,73.50 L596.34,73.49 L597.16,73.49 L597.97,73.50 L598.78,73.51 L599.60,73.52 L600.41,73.54 L601.23,73.56 L602.04,73.59 L602.85,73.62 L603.67,73.65 L604.48,73.69 L605.30,73.73 L606.11,73.77 L606.93,73.82 L607.74,73.87 L608.56,73.92 L609.37,73.98 L610.19,74.04 L611.00,74.10 L611.82,74.16 L612.63,74.22 L613.45,74.29 L614.26,74.36 L615.07,74.42 L615.89,74.49 L616.70,74.57 L617.51,74.64 L618.33,74.71 L619.14,74.78 L619.95,74.86 L620.76,74.93 L621.57,75.01 L622.38,75.08 L623.19,75.15 L624.00,75.23 L624.81,75.30 L625.62,75.37 L626.42,75.45 L627.23,75.52 L628.04,75.59 L628.84,75.65 L629.65,75.72 L630.45,75.79 L630.99,75.83" fill="none" stroke="#f00" stroke-width="2.1" stroke-linejoin="round"/>
<path d="M81.99,399.17 L82.87,399.13 L83.76,399.08 L84.64,399.04 L85.52,398.99 L86.41,398.94 L87.29,398.89 L88.17,398.84 L89.05,398.79 L89.93,398.73 L90.81,398.67 L91.69,398.61 L92.57,398.55 L93.44,398.48 L94.32,398.42 L95.20,398.35 L96.08,398.28 L96.95,398.20 L97.83,398.13 L98.70,398.05 L99.58,397.98 L100.46,397.90 L101.33,397.81 L102.20,397.73 L103.08,397.65 L103.95,397.56 L104.83,397.47 L105.70,397.38 L106.57,397.29 L107.44,397.20 L108.32,397.10 L109.19,397.01 L110.06,396.91 L110.93,396.81 L111.80,396.71 L112.68,396.61 L113.55,396.50 L114.42,396.40 L115.29,396.29 L116.16,396.18 L117.03,396.08 L117.90,395.97 L118.77,395.85 L119.64,395.74 L120.51,395.63 L121.38,395.51 L122.25,395.39 L123.12,395.28 L123.99,395.16 L124.86,395.04 L125.72,394.92 L126.59,394.79 L127.46,394.67 L128.33,394.54 L129.20,394.42 L130.07,394.29 L130.94,394.16 L131.81,394.04 L132.68,393.91 L133.55,393.78 L134.41,393.64 L135.28,393.51 L136.15,393.38 L137.02,393.24 L137.89,393.11 L138.76,392.97 L139.63,392.84 L140.50,392.70 L141.37,392.56 L142.24,392.42 L143.11,392.28 L143.98,392.14 L144.85,392.00 L145.71,391.86 L146.59,391.72 L147.46,391.58 L148.33,391.43 L149.20,391.29 L150.07,391.15 L150.94,391.00 L151.81,390.85 L152.68,390.71 L153.55,390.56 L154.42,390.41 L155.29,390.26 L156.16,390.10 L157.03,389.94 L157.90,389.78 L158.76,389.62 L159.63,389.45 L160.49,389.28 L161.36,389.10 L162.22,388.92 L163.08,388.73 L163.93,388.54 L164.79,388.34 L165.64,388.13 L166.50,387.92 L167.35,387.70 L168.19,387.48 L169.04,387.24 L169.88,387.00 L170.72,386.75 L171.55,386.49 L172.38,386.22 L173.21,385.95 L174.04,385.66 L174.86,385.36 L175.68,385.06 L176.50,384.74 L177.31,384.41 L178.12,384.08 L178.92,383.73 L179.72,383.38 L180.52,383.02 L181.32,382.66 L182.12,382.28 L182.91,381.91 L183.70,381.52 L184.49,381.14 L185.28,380.75 L186.07,380.36 L186.86,379.96 L187.64,379.56 L188.43,379.17 L189.22,378.77 L190.00,378.37 L190.79,377.97 L191.58,377.57 L192.36,377.18 L193.15,376.78 L193.93,376.37 L194.71,375.97 L195.49,375.55 L196.26,375.14 L197.03,374.71 L197.80,374.29 L198.56,373.85 L199.32,373.40 L200.07,372.94 L200.81,372.48 L201.55,372.00 L202.28,371.51 L203.01,371.02 L203.73,370.51 L204.44,370.00 L205.15,369.47 L205.84,368.94 L206.54,368.40 L207.22,367.84 L207.90,367.28 L208.57,366.71 L209.23,366.13 L209.88,365.55 L210.53,364.95 L211.17,364.35 L211.80,363.73 L212.42,363.11 L213.03,362.49 L213.64,361.85 L214.24,361.21 L214.82,360.55 L215.40,359.90 L215.97,359.23 L216.54,358.56 L217.09,357.87 L217.63,357.19 L218.17,356.49 L218.69,355.79 L219.21,355.08 L219.71,354.37 L220.21,353.65 L220.70,352.93 L221.19,352.20 L221.67,351.46 L222.14,350.73 L222.62,349.99 L223.08,349.24 L223.55,348.50 L224.01,347.75 L224.48,347.00 L224.94,346.25 L225.40,345.50 L225.87,344.75 L226.33,344.00 L226.80,343.26 L227.27,342.51 L227.74,341.76 L228.22,341.01 L228.69,340.26 L229.16,339.51 L229.62,338.76 L230.08,338.01 L230.54,337.26 L231.00,336.50 L231.44,335.74 L231.88,334.98 L232.31,334.21 L232.74,333.44 L233.15,332.67 L233.55,331.89 L233.94,331.11 L234.32,330.32 L234.69,329.53 L235.04,328.73 L235.38,327.92 L235.71,327.11 L236.03,326.30 L236.34,325.48 L236.64,324.66 L236.93,323.83 L237.21,323.01 L237.49,322.18 L237.77,321.34 L238.04,320.51 L238.31,319.67 L238.58,318.84 L238.85,318.00 L239.11,317.16 L239.38,316.33 L239.65,315.49 L239.92,314.65 L240.19,313.81 L240.46,312.98 L240.73,312.14 L241.01,311.30 L241.28,310.47 L241.55,309.63 L241.82,308.79 L242.09,307.95 L242.36,307.11 L242.63,306.28 L242.89,305.44 L243.16,304.60 L243.42,303.76 L243.68,302.92 L243.94,302.08 L244.19,301.23 L244.45,300.39 L244.70,299.55 L244.94,298.70 L245.19,297.86 L245.43,297.02 L245.68,296.17 L245.92,295.32 L246.15,294.48 L246.39,293.63 L246.62,292.78 L246.85,291.94 L247.08,291.09 L247.31,290.24 L247.53,289.39 L247.76,288.54 L247.98,287.69 L248.20,286.84 L248.41,285.99 L248.63,285.13 L248.84,284.28 L249.05,283.43 L249.26,282.57 L249.47,281.72 L249.68,280.87 L249.88,280.01 L250.09,279.16 L250.29,278.30 L250.49,277.45 L250.69,276.59 L250.89,275.73 L251.08,274.88 L251.28,274.02 L251.47,273.16 L251.66,272.30 L251.85,271.45 L252.04,270.59 L252.23,269.73 L252.41,268.87 L252.60,268.01 L252.78,267.15 L252.97,266.29 L253.15,265.43 L253.33,264.57 L253.51,263.71 L253.69,262.85 L253.87,261.99 L254.04,261.13 L254.22,260.27 L254.39,259.40 L254.57,258.54 L254.74,257.68 L254.92,256.82 L255.09,255.95 L255.26,255.09 L255.43,254.23 L255.60,253.37 L255.77,252.50 L255.94,251.64 L256.10,250.78 L256.27,249.91 L256.44,249.05 L256.60,248.19 L256.77,247.32 L256.94,246.46 L257.10,245.59 L257.27,244.73 L257.43,243.87 L257.59,243.00 L257.76,242.14 L257.92,241.27 L258.09,240.41 L258.25,239.55 L258.41,238.68 L258.57,237.82 L258.74,236.95 L258.90,236.09 L259.06,235.22 L259.22,234.36 L259.38,233.49 L259.54,232.63 L259.70,231.77 L259.86,230.90 L260.02,230.04 L260.18,229.17 L260.34,228.31 L260.50,227.44 L260.66,226.58 L260.81,225.71 L260.97,224.85 L261.13,223.98 L261.28,223.12 L261.44,222.25 L261.59,221.39 L261.75,220.52 L261.90,219.65 L262.06,218.79 L262.21,217.92 L262.36,217.06 L262.51,216.19 L262.66,215.33 L262.81,214.46 L262.96,213.59 L263.11,212.73 L263.26,211.86 L263.41,210.99 L263.56,210.13 L263.71,209.26 L263.85,208.39 L264.00,207.53 L264.14,206.66 L264.29,205.79 L264.43,204.93 L264.57,204.06 L264.72,203.19 L264.86,202.32 L265.00,201.46 L265.14,200.59 L265.28,199.72 L265.42,198.85 L265.56,197.99 L265.70,197.12 L265.84,196.25 L265.98,195.38 L266.12,194.51 L266.26,193.65 L266.40,192.78 L266.54,191.91 L266.68,191.04 L266.82,190.17 L266.96,189.31 L267.10,188.44 L267.24,187.57 L267.39,186.70 L267.53,185.84 L267.67,184.97 L267.82,184.10 L267.96,183.23 L268.11,182.37 L268.26,181.50 L268.40,180.63 L268.55,179.77 L268.70,178.90 L268.85,178.03 L269.01,177.17 L269.16,176.30 L269.32,175.43 L269.47,174.57 L269.63,173.70 L269.79,172.84 L269.95,171.97 L270.11,171.11 L270.28,170.24 L270.44,169.38 L270.61,168.51 L270.78,167.65 L270.95,166.79 L271.12,165.92 L271.29,165.06 L271.46,164.20 L271.63,163.33 L271.81,162.47 L271.99,161.61 L272.16,160.75 L272.34,159.88 L272.52,159.02 L272.70,158.16 L272.88,157.30 L273.07,156.44 L273.25,155.58 L273.44,154.72 L273.62,153.86 L273.81,153.00 L274.00,152.15 L274.19,151.29 L274.38,150.43 L274.57,149.57 L274.76,148.72 L274.96,147.86 L275.15,147.00 L275.34,146.15 L275.54,145.29 L275.74,144.44 L275.93,143.59 L276.13,142.73 L276.33,141.88 L276.54,141.03 L276.74,140.18 L276.95,139.32 L277.17,138.47 L277.39,137.63 L277.61,136.78 L277.84,135.93 L278.07,135.09 L278.31,134.24 L278.56,133.40 L278.81,132.56 L279.07,131.72 L279.34,130.88 L279.62,130.04 L279.92,129.21 L280.25,128.37 L280.59,127.53 L280.97,126.69 L281.37,125.86 L281.82,125.02 L282.30,124.18 L282.82,123.36 L283.38,122.62 L283.99,121.98 L284.64,121.49 L285.34,121.19 L286.08,121.12 L286.85,121.26 L287.63,121.59 L288.37,122.06 L289.07,122.64 L289.71,123.31 L290.29,124.04 L290.82,124.83 L291.30,125.64 L291.76,126.47 L292.18,127.30 L292.58,128.14 L292.95,128.97 L293.29,129.80 L293.62,130.64 L293.92,131.47 L294.20,132.31 L294.47,133.14 L294.73,133.98 L294.97,134.82 L295.20,135.66 L295.42,136.50 L295.64,137.34 L295.85,138.18 L296.05,139.02 L296.26,139.86 L296.46,140.70 L296.67,141.55 L296.87,142.39 L297.08,143.24 L297.29,144.08 L297.50,144.93 L297.72,145.78 L297.93,146.63 L298.14,147.48 L298.36,148.33 L298.58,149.17 L298.80,150.02 L299.02,150.87 L299.24,151.73 L299.47,152.58 L299.69,153.43 L299.92,154.28 L300.15,155.13 L300.38,155.98 L300.61,156.83 L300.84,157.68 L301.08,158.53 L301.31,159.38 L301.55,160.23 L301.79,161.08 L302.03,161.93 L302.28,162.78 L302.52,163.63 L302.77,164.48 L303.01,165.32 L303.26,166.17 L303.51,167.02 L303.77,167.86 L304.02,168.71 L304.28,169.55 L304.54,170.39 L304.79,171.24 L305.06,172.08 L305.32,172.92 L305.58,173.76 L305.85,174.59 L306.12,175.43 L306.39,176.27 L306.66,177.11 L306.94,177.94 L307.21,178.78 L307.49,179.61 L307.77,180.44 L308.06,181.27 L308.34,182.10 L308.63,182.93 L308.91,183.76 L309.21,184.59 L309.50,185.42 L309.79,186.24 L310.09,187.07 L310.39,187.89 L310.69,188.72 L310.99,189.54 L311.30,190.36 L311.61,191.18 L311.92,192.00 L312.23,192.82 L312.54,193.64 L312.86,194.45 L313.18,195.27 L313.50,196.08 L313.83,196.90 L314.15,197.71 L314.49,198.52 L314.83,199.33 L315.18,200.13 L315.54,200.93 L315.92,201.73 L316.32,202.52 L316.73,203.30 L317.17,204.08 L317.63,204.85 L318.11,205.61 L318.63,206.35 L319.17,207.08 L319.74,207.77 L320.35,208.42 L320.99,209.03 L321.66,209.58 L322.37,210.06 L323.12,210.47 L323.90,210.80 L324.73,211.04 L325.59,211.18 L326.47,211.23 L327.36,211.20 L328.25,211.07 L329.12,210.86 L329.97,210.56 L330.77,210.18 L331.52,209.72 L332.20,209.18 L332.82,208.58 L333.40,207.92 L333.94,207.21 L334.45,206.48 L334.94,205.74 L335.42,204.98 L335.89,204.23 L336.35,203.47 L336.81,202.71 L337.26,201.95 L337.70,201.18 L338.13,200.41 L338.56,199.64 L338.98,198.87 L339.40,198.09 L339.81,197.32 L340.21,196.54 L340.61,195.75 L341.00,194.97 L341.38,194.18 L341.76,193.39 L342.14,192.59 L342.51,191.80 L342.87,191.00 L343.23,190.20 L343.59,189.40 L343.94,188.59 L344.29,187.79 L344.63,186.98 L344.97,186.17 L345.31,185.36 L345.64,184.55 L345.97,183.73 L346.30,182.92 L346.62,182.10 L346.94,181.28 L347.26,180.46 L347.58,179.64 L347.89,178.82 L348.21,178.00 L348.52,177.18 L348.83,176.35 L349.14,175.53 L349.45,174.71 L349.76,173.88 L350.06,173.06 L350.37,172.23 L350.68,171.41 L350.98,170.58 L351.29,169.76 L351.60,168.93 L351.90,168.11 L352.21,167.28 L352.52,166.46 L352.83,165.64 L353.14,164.81 L353.45,163.99 L353.77,163.17 L354.08,162.35 L354.40,161.53 L354.71,160.71 L355.03,159.89 L355.35,159.07 L355.66,158.25 L355.98,157.43 L356.30,156.61 L356.63,155.79 L356.95,154.98 L357.27,154.16 L357.60,153.34 L357.92,152.53 L358.25,151.71 L358.58,150.90 L358.91,150.08 L359.24,149.27 L359.57,148.46 L359.91,147.64 L360.24,146.83 L360.58,146.02 L360.92,145.21 L361.25,144.40 L361.59,143.59 L361.94,142.78 L362.28,141.97 L362.62,141.16 L362.97,140.35 L363.32,139.54 L363.67,138.74 L364.02,137.93 L364.37,137.12 L364.72,136.32 L365.07,135.51 L365.43,134.71 L365.79,133.91 L366.15,133.10 L366.51,132.30 L366.87,131.50 L367.24,130.70 L367.60,129.90 L367.97,129.10 L368.34,128.30 L368.71,127.50 L369.08,126.70 L369.46,125.91 L369.83,125.11 L370.21,124.31 L370.59,123.52 L370.97,122.72 L371.36,121.93 L371.74,121.14 L372.13,120.35 L372.53,119.56 L372.93,118.78 L373.33,118.00 L373.74,117.22 L374.16,116.44 L374.58,115.68 L375.01,114.91 L375.45,114.15 L375.89,113.40 L376.35,112.65 L376.81,111.91 L377.28,111.17 L377.76,110.44 L378.25,109.72 L378.75,109.01 L379.26,108.31 L379.79,107.61 L380.32,106.92 L380.87,106.24 L381.43,105.57 L382.01,104.91 L382.60,104.27 L383.20,103.63 L383.82,103.00 L384.45,102.38 L385.10,101.78 L385.76,101.19 L386.44,100.61 L387.14,100.05 L387.85,99.50 L388.58,98.97 L389.33,98.46 L390.09,97.98 L390.86,97.52 L391.65,97.09 L392.44,96.70 L393.25,96.35 L394.08,96.03 L394.91,95.76 L395.75,95.53 L396.60,95.34 L397.46,95.20 L398.32,95.10 L399.19,95.04 L400.06,95.02 L400.93,95.03 L401.80,95.07 L402.67,95.14 L403.54,95.23 L404.40,95.35 L405.26,95.50 L406.12,95.66 L406.97,95.85 L407.82,96.06 L408.67,96.29 L409.51,96.53 L410.35,96.79 L411.18,97.07 L412.01,97.36 L412.84,97.67 L413.67,97.99 L414.49,98.32 L415.30,98.67 L416.12,99.02 L416.93,99.38 L417.73,99.75 L418.53,100.12 L419.33,100.50 L420.13,100.89 L420.92,101.28 L421.72,101.67 L422.51,102.06 L423.30,102.46 L424.08,102.86 L424.87,103.25 L425.66,103.65 L426.45,104.04 L427.24,104.44 L428.03,104.82 L428.82,105.21 L429.61,105.59 L430.40,105.96 L431.20,106.33 L432.00,106.69 L432.80,107.04 L433.60,107.38 L434.41,107.71 L435.22,108.03 L436.04,108.33 L436.86,108.63 L437.69,108.91 L438.52,109.18 L439.36,109.43 L440.20,109.67 L441.05,109.90 L441.90,110.11 L442.75,110.31 L443.61,110.49 L444.47,110.66 L445.34,110.81 L446.21,110.96 L447.08,111.09 L447.95,111.20 L448.83,111.30 L449.70,111.39 L450.58,111.47 L451.46,111.53 L452.34,111.58 L453.23,111.61 L454.11,111.64 L454.99,111.65 L455.87,111.64 L456.76,111.63 L457.64,111.60 L458.52,111.56 L459.40,111.51 L460.28,111.44 L461.15,111.37 L462.03,111.28 L462.90,111.18 L463.77,111.06 L464.64,110.94 L465.51,110.80 L466.37,110.66 L467.23,110.50 L468.10,110.34 L468.95,110.16 L469.81,109.98 L470.67,109.78 L471.52,109.58 L472.37,109.37 L473.22,109.15 L474.07,108.93 L474.92,108.70 L475.77,108.46 L476.61,108.21 L477.45,107.96 L478.30,107.71 L479.14,107.44 L479.98,107.18 L480.81,106.91 L481.65,106.63 L482.49,106.35 L483.32,106.07 L484.15,105.78 L484.99,105.50 L485.82,105.21 L486.65,104.91 L487.48,104.62 L488.31,104.32 L489.14,104.02 L489.96,103.73 L490.79,103.43 L491.62,103.12 L492.44,102.82 L493.27,102.52 L494.09,102.21 L494.92,101.91 L495.74,101.60 L496.56,101.29 L497.39,100.99 L498.21,100.68 L499.03,100.37 L499.86,100.06 L500.68,99.76 L501.50,99.45 L502.33,99.14 L503.15,98.84 L503.97,98.53 L504.80,98.23 L505.62,97.92 L506.45,97.62 L507.27,97.32 L508.10,97.01 L508.92,96.72 L509.75,96.42 L510.57,96.12 L511.40,95.83 L512.23,95.53 L513.06,95.24 L513.89,94.95 L514.72,94.66 L515.55,94.37 L516.38,94.09 L517.21,93.81 L518.04,93.52 L518.88,93.24 L519.71,92.97 L520.55,92.69 L521.38,92.41 L522.22,92.14 L523.05,91.87 L523.89,91.60 L524.73,91.33 L525.57,91.06 L526.40,90.80 L527.24,90.54 L528.08,90.28 L528.92,90.02 L529.76,89.76 L530.61,89.50 L531.45,89.25 L532.29,89.00 L533.13,88.75 L533.98,88.50 L534.82,88.25 L535.67,88.01 L536.51,87.76 L537.36,87.52 L538.21,87.28 L539.05,87.04 L539.90,86.81 L540.75,86.58 L541.60,86.35 L542.45,86.12 L543.30,85.89 L544.15,85.67 L545.00,85.44 L545.86,85.22 L546.71,85.01 L547.56,84.79 L548.42,84.58 L549.27,84.37 L550.13,84.16 L550.98,83.96 L551.84,83.75 L552.69,83.55 L553.55,83.36 L554.41,83.16 L555.27,82.97 L556.13,82.78 L556.98,82.60 L557.84,82.41 L558.70,82.23 L559.57,82.05 L560.43,81.88 L561.29,81.71 L562.15,81.54 L563.01,81.37 L563.88,81.21 L564.74,81.05 L565.61,80.89 L566.47,80.74 L567.34,80.59 L568.20,80.44 L569.07,80.30 L569.94,80.16 L570.80,80.02 L571.67,79.89 L572.54,79.76 L573.41,79.63 L574.28,79.51 L575.15,79.39 L576.02,79.27 L576.89,79.16 L577.76,79.05 L578.64,78.95 L579.51,78.85 L580.38,78.75 L581.25,78.66 L582.13,78.57 L583.00,78.48 L583.88,78.40 L584.75,78.32 L585.63,78.25 L586.51,78.18 L587.38,78.11 L588.26,78.05 L589.14,77.99 L590.01,77.93 L590.89,77.88 L591.77,77.83 L592.65,77.79 L593.53,77.75 L594.41,77.71 L595.28,77.68 L596.16,77.65 L597.04,77.62 L597.92,77.60 L598.80,77.58 L599.68,77.56 L600.56,77.55 L601.44,77.54 L602.32,77.53 L603.20,77.53 L604.08,77.53 L604.96,77.53 L605.84,77.54 L606.72,77.55 L607.60,77.56 L608.48,77.58 L609.36,77.60 L610.24,77.62 L611.12,77.65 L612.00,77.68 L612.88,77.71 L613.76,77.75 L614.64,77.79 L615.52,77.83 L616.40,77.87 L617.27,77.92 L618.15,77.97 L619.03,78.02 L619.91,78.08 L620.78,78.14 L621.66,78.20 L622.54,78.27 L623.41,78.34 L624.29,78.41 L625.16,78.48 L626.04,78.56 L626.91,78.64 L627.79,78.72 L628.66,78.80 L629.53,78.89 L630.41,78.98 L630.99,79.04" fill="none" stroke="#00f" stroke-width="2.3" stroke-linejoin="round"/>
<line x1="435.90" y1="37.10" x2="357.28" y2="96.67" stroke="#f00" stroke-width="1.90"/><polygon points="350.90,101.50 355.85,91.48 361.89,99.45" fill="#f00"/>
<line x1="458.70" y1="37.30" x2="369.70" y2="148.46" stroke="#000" stroke-width="1.90"/><polygon points="364.70,154.70 367.05,143.77 374.85,150.02" fill="#000"/>
<text x="257.0" y="78.6" class="an">1s-4p</text>
<text x="409.0" y="25.8" class="an">Br K-edge</text>
<rect x="489.5" y="311.5" width="125" height="86.3" fill="#fff" stroke="none"/>
<line x1="489" y1="311.5" x2="615.2" y2="311.5" stroke="#333" stroke-width="1"/>
<line x1="489.5" y1="311" x2="489.5" y2="398.4" stroke="#666" stroke-width="1"/>
<line x1="614.7" y1="311" x2="614.7" y2="398.4" stroke="#666" stroke-width="1.1"/>
<line x1="489" y1="397.85" x2="615.2" y2="397.85" stroke="#666" stroke-width="1.2"/>
<line x1="491.2" y1="327.00" x2="543.1" y2="327.00" stroke="#000" stroke-width="2.4"/>
<text transform="translate(547.8,335.00) scale(0.943,1)" class="lg">0 hrs</text>
<line x1="491.2" y1="354.10" x2="543.1" y2="354.10" stroke="#f00" stroke-width="2.4"/>
<text transform="translate(547.8,362.20) scale(0.943,1)" class="lg">3 hrs</text>
<line x1="491.2" y1="381.60" x2="543.1" y2="381.60" stroke="#00f" stroke-width="2.4"/>
<text transform="translate(547.8,389.80) scale(0.943,1)" class="lg">76 hrs</text>
</svg>
</body></html>
